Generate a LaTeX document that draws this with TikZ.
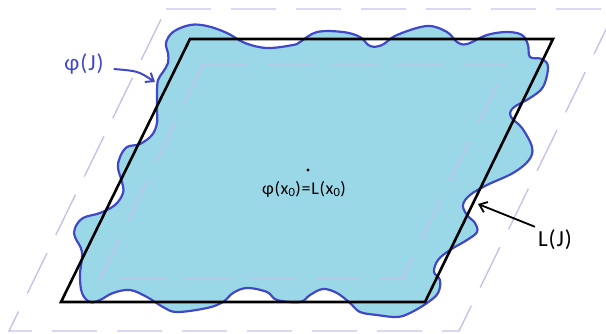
\documentclass[tikz,border=0pt]{standalone}
\usepackage{fontspec}
\setmainfont{Carlito}[LetterSpace=4]
\usepackage{tikz}
\usetikzlibrary{arrows.meta, calc}
\definecolor{BlobBlue}{RGB}{64,72,200}
\definecolor{BlobFill}{RGB}{154,216,232}
\definecolor{FrameLav}{RGB}{196,194,234}

\begin{document}
\begin{tikzpicture}[x=1pt, y=-1pt, >={Straight Barb[length=7pt,width=11pt]},
    frame/.style={FrameLav, line width=1.4pt, dash pattern=on 45pt off 20pt},
    blob/.style={BlobBlue, line width=2.2pt, fill=BlobFill},
    label/.style={inner sep=2pt, font=\fontsize{23}{26}\selectfont}]
        \useasboundingbox (0,0) rectangle (606,333);

        % Outer frame
        \draw [frame] (166,9) -- (616,9) -- (459,331) -- (9,331) -- cycle;

        % Image of J
        \draw [blob] plot [smooth cycle, tension=0.6] coordinates {
            (166,43) (173,32) (190,25) (207,26) (227,33) (245,43) (267,48) (293,45)
            (300,42) (317,32) (343,32) (360,37) (370,46) (382,45) (397,35) (427,26)
            (447,32) (457,42) (467,44) (487,35) (507,32) (522,35) (528,45) (530,57)
            (542,59) (548,67) (543,87) (530,98) (513,108) (511,117) (522,128) (532,147)
            (529,160) (513,173) (487,185) (470,195) (463,205) (467,215) (475,223) (477,232)
            (467,240) (450,250) (438,260) (434,272) (440,280) (438,293) (427,303) (410,313)
            (397,317) (377,315) (360,312) (350,303) (337,293) (323,289) (310,295) (300,302)
            (277,300) (267,292) (247,288) (233,293) (223,302) (207,308) (177,312) (163,307)
            (147,297) (130,290) (113,293) (100,300) (90,302) (82,293) (80,275) (82,252)
            (75,237) (75,228) (83,218) (100,213) (115,205) (123,193) (122,182) (118,168)
            (120,157) (127,147) (140,144) (152,135) (157,123) (157,110) (157,93) (158,80)
            (163,72) (168,63) (168,53)};

        % Inner frame
        \draw [frame] (203,64) -- (507,64) -- (402,279) -- (100,279) -- cycle;

        % Linear image L(J)
        \draw [black, line width=2.6pt] (190,39) -- (553,39) -- (425,302) -- (61,302) -- cycle;

        % Centre point
        \fill [black] (308,170) circle (1.6pt) coordinate (xo);
        \node (centre) at (304,189) [font=\fontsize{18}{21}\selectfont] {φ(x\textsubscript{0})=L(x\textsubscript{0})};

        % Labels
        \node [label, BlobBlue] (phij) at (84,64) {φ(J)};
        \coordinate (phitip) at (155,82);
        \draw [->, BlobBlue, line width=2pt] ($(phij.east)+(8,5)$) .. controls (138,71) .. (phitip);

        \node [label] (lj) at (555,240) {L(J)};
        \coordinate (ljtip) at (478,204);
        \draw [->, black, line width=1.8pt] ($(lj.north west)+(-1,-1)$) -- (ljtip);
\end{tikzpicture}
\end{document}
